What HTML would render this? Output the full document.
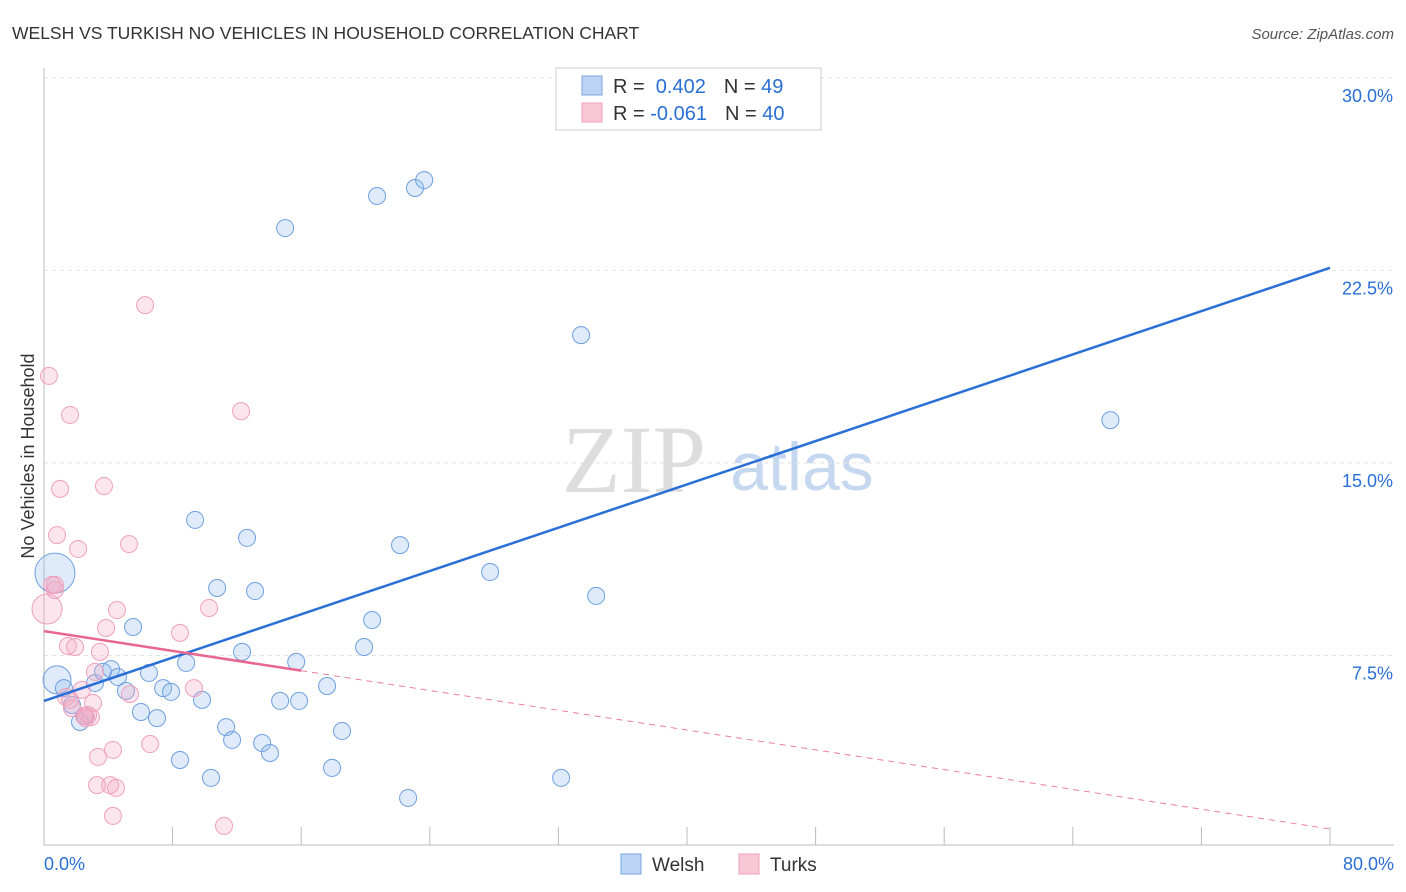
<!DOCTYPE html>
<html><head><meta charset="utf-8"><style>
body{margin:0;background:#fff;font-family:"Liberation Sans",sans-serif;}
svg{display:block}
</style></head><body>
<svg id="chart" width="1406" height="892" xmlns="http://www.w3.org/2000/svg">
<text x="12" y="39" font-size="17.5" fill="#333">WELSH VS TURKISH NO VEHICLES IN HOUSEHOLD CORRELATION CHART</text>
<text x="1394" y="39" font-size="15" fill="#555" text-anchor="end" font-style="italic">Source: ZipAtlas.com</text>
<text transform="translate(34,456) rotate(-90)" font-size="18" fill="#333" text-anchor="middle">No Vehicles in Household</text>
<g id="watermark">
<text x="634" y="492" font-size="96" fill="#ddd" font-family="Liberation Serif,serif" text-anchor="middle">ZIP</text>
<text x="802" y="490" font-size="68" fill="#c5d8ef" text-anchor="middle">atlas</text>
</g>
<g id="grid"></g><g id="axes"></g><g id="marks"></g>
<g>
<rect x="556" y="68" width="265" height="62" fill="#fff" stroke="#ccc"/>
<rect x="582" y="76" width="20" height="19" fill="#bcd4f4" stroke="#7aa6e0"/>
<rect x="582" y="103" width="20" height="19" fill="#f9c8d6" stroke="#f0a0bc"/>
<text x="613" y="93" font-size="20" fill="#333">R = <tspan fill="#2a6fd6">&#160;0.402</tspan><tspan dx="18">N = </tspan><tspan fill="#2a6fd6">49</tspan></text>
<text x="613" y="120" font-size="20" fill="#333">R = <tspan fill="#2a6fd6">-0.061</tspan><tspan dx="18">N = </tspan><tspan fill="#2a6fd6">40</tspan></text>
</g>
<g>
<rect x="621" y="854" width="20" height="20" fill="#bcd4f4" stroke="#7aa6e0"/>
<text x="652" y="871" font-size="19" fill="#333">Welsh</text>
<rect x="739" y="854" width="20" height="20" fill="#f9c8d6" stroke="#f0a0bc"/>
<text x="770" y="871" font-size="19" fill="#333">Turks</text>
</g>
</svg>
<script>
const welshX=[0.68,0.81,1.24,1.74,2.24,2.55,3.17,3.67,4.17,4.60,5.10,5.54,6.03,6.53,7.03,7.41,7.90,8.46,8.84,9.40,9.83,10.39,10.77,11.33,11.70,12.32,12.63,13.13,13.57,14.06,14.69,15.00,15.69,15.87,17.61,17.92,18.54,19.91,20.41,20.72,22.15,22.65,23.08,23.65,27.75,32.17,33.41,34.35,66.34];
const welshY=[10.71,6.55,6.23,5.57,4.91,5.14,6.43,6.86,6.97,6.66,6.12,8.61,5.30,6.82,5.06,6.23,6.08,3.43,7.21,12.78,5.77,2.73,10.13,4.71,4.21,7.64,12.08,10.01,4.09,3.70,5.73,24.15,7.25,5.73,6.31,3.12,4.56,7.83,8.88,25.40,11.80,1.95,25.71,26.02,10.75,2.73,19.98,9.82,16.67];
const turksX=[0.19,0.31,0.50,0.68,0.81,1.00,1.37,1.49,1.62,1.74,1.93,2.12,2.36,2.61,2.74,2.92,3.05,3.17,3.36,3.30,3.48,3.73,3.86,4.11,4.29,4.29,4.48,4.54,5.29,5.35,6.29,6.60,8.46,9.33,10.27,11.20,12.26,2.49,1.62,0.68];
const turksY=[9.31,18.39,10.25,10.05,12.19,13.99,5.88,7.87,16.87,5.45,7.83,11.65,6.16,5.06,5.18,5.10,5.65,6.86,3.55,2.45,7.64,14.10,8.57,2.45,3.82,1.25,2.34,9.27,11.84,6.00,21.15,4.05,8.38,6.23,9.35,0.86,17.02,5.14,5.77,10.25];
const yTicks=[7.5,15.0,22.5,30.0];
const xTickLabels=["0.0%","80.0%"];
const welshTrend=[5.73,22.6];
const turksTrend=[8.45,0.74];
const turksSolidEnd=16;
const NS="http://www.w3.org/2000/svg";
const X=v=>44+v*16.075, Y=v=>848-v*25.67;
function mk(tag,attrs,parent){const e=document.createElementNS(NS,tag);for(const k in attrs)e.setAttribute(k,attrs[k]);document.getElementById(parent).appendChild(e);return e;}
yTicks.forEach(t=>{
 const g=mk('line',{x1:44,x2:1394,y1:Y(t),y2:Y(t),stroke:'#e2e2e2','stroke-dasharray':'4,4'},'grid');
 
 
 const l=mk('text',{x:1393,y:Y(t)+24,'font-size':18,fill:'#2a6fd6','text-anchor':'end'},'axes');
 l.textContent=t.toFixed(1)+'%';
 
 
});
const ax=mk('line',{x1:44,x2:1394,y1:845,y2:845,stroke:'#bbb'},'axes');


const ay=mk('line',{x1:44,x2:44,y1:68,y2:845,stroke:'#bbb'},'axes');


for(let i=0;i<=10;i++){const t=mk('line',{x1:X(i*8),x2:X(i*8),y1:827,y2:845,stroke:'#bbb'},'axes');
 
 }
const xl0=mk('text',{x:44,y:870,'font-size':18,fill:'#2a6fd6'},'axes');xl0.textContent=xTickLabels[0];


const xl1=mk('text',{x:1394,y:870,'font-size':18,fill:'#2a6fd6','text-anchor':'end'},'axes');xl1.textContent=xTickLabels[1];


welshX.forEach((x,i)=>{const r=i===0?20:(i===1?14:8.5);
 const c=mk('circle',{cx:X(x),cy:Y(welshY[i]),r:r,fill:'rgba(150,190,240,0.3)',stroke:'#6d9fe0','stroke-width':1},'marks');
 
 });
turksX.forEach((x,i)=>{const r=i===0?15:8.5;
 const c=mk('circle',{cx:X(x),cy:Y(turksY[i]),r:r,fill:'rgba(245,170,195,0.3)',stroke:'#f0a0bc','stroke-width':1},'marks');
 
 });
const wl=mk('line',{x1:X(0),y1:Y(welshTrend[0]),x2:X(80),y2:Y(welshTrend[1]),stroke:'#2a6fd6','stroke-width':2.5},'marks');


const ty=x=>turksTrend[0]+(turksTrend[1]-turksTrend[0])*x/80;
const td=mk('line',{x1:X(turksSolidEnd),y1:Y(ty(turksSolidEnd)),x2:X(80),y2:Y(turksTrend[1]),stroke:'#ec7ea0','stroke-width':1,'stroke-dasharray':'6,5'},'marks');


const ts=mk('line',{x1:X(0),y1:Y(turksTrend[0]),x2:X(turksSolidEnd),y2:Y(ty(turksSolidEnd)),stroke:'#e8668f','stroke-width':2.5},'marks');


</script>
</body></html>
